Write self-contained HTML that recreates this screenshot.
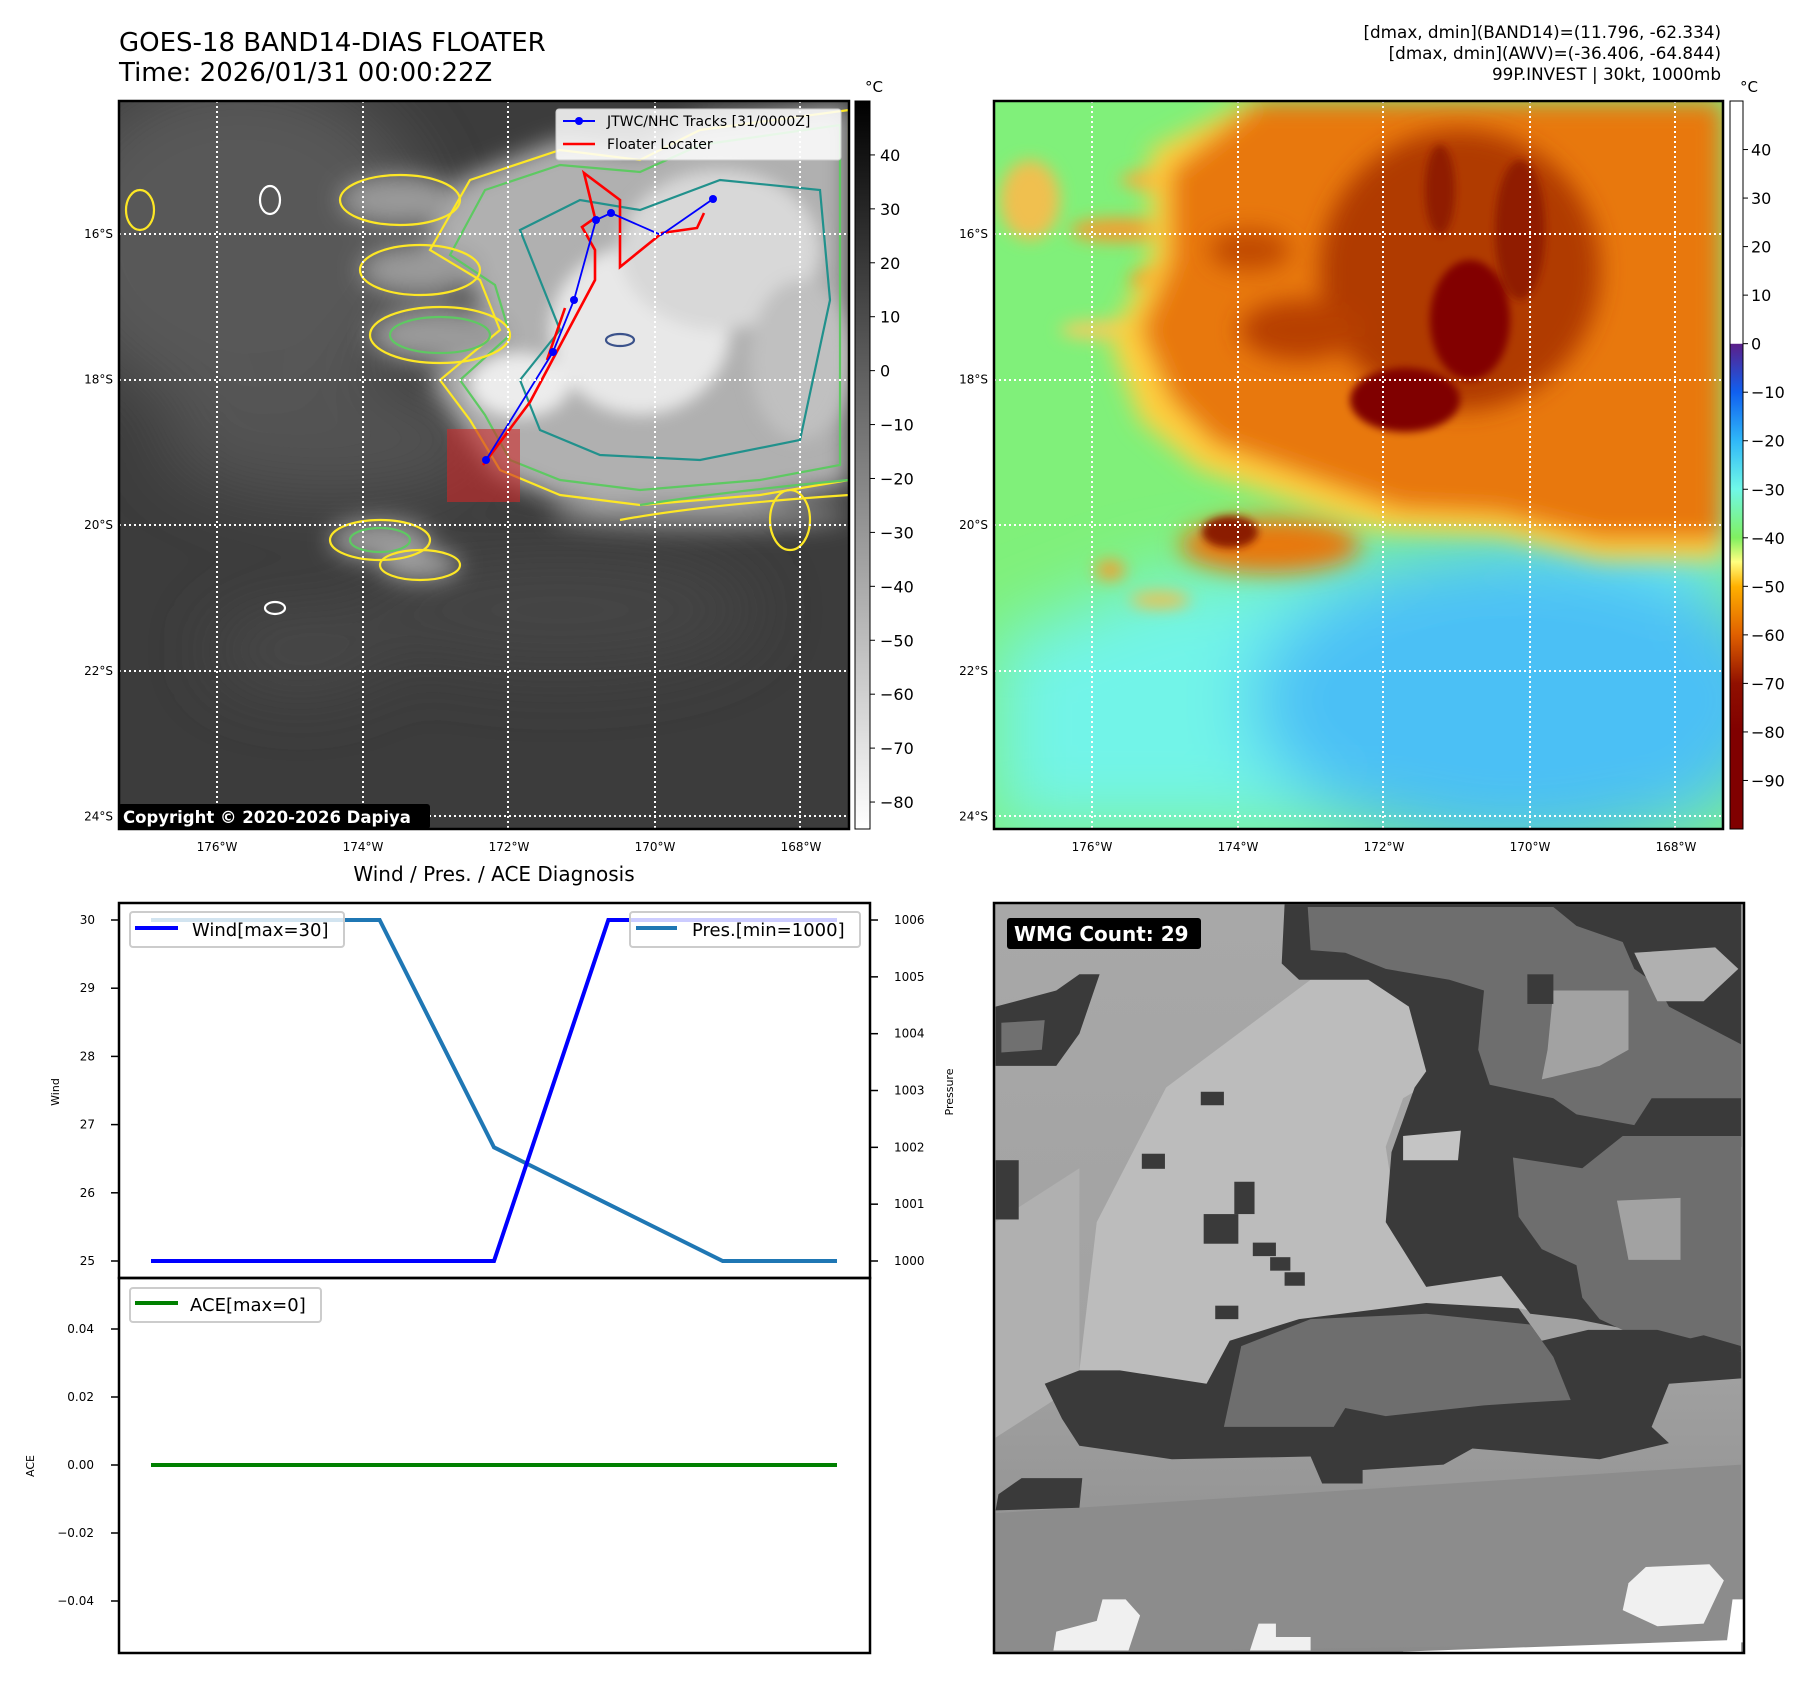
<!DOCTYPE html>
<html><head><meta charset="utf-8"><style>
html,body{margin:0;padding:0;background:#fff}
svg{display:block}
text{font-family:"DejaVu Sans","Liberation Sans",sans-serif}
</style></head><body>
<svg id="fig" width="1813" height="1690" viewBox="0 0 1813 1690" xmlns="http://www.w3.org/2000/svg">
<defs>
 <filter id="b4" x="-50%" y="-50%" width="200%" height="200%"><feGaussianBlur stdDeviation="4"/></filter>
 <filter id="b8" x="-50%" y="-50%" width="200%" height="200%"><feGaussianBlur stdDeviation="8"/></filter>
 <filter id="b12" x="-50%" y="-50%" width="200%" height="200%"><feGaussianBlur stdDeviation="12"/></filter>
 <filter id="b20" x="-50%" y="-50%" width="200%" height="200%"><feGaussianBlur stdDeviation="20"/></filter>
 <filter id="b35" x="-50%" y="-50%" width="200%" height="200%"><feGaussianBlur stdDeviation="35"/></filter>
 <clipPath id="clipL"><rect x="119" y="101" width="730" height="728"/></clipPath>
 <clipPath id="clipR"><rect x="994" y="101" width="729" height="728"/></clipPath>
 <clipPath id="clipW"><rect x="994" y="903" width="750" height="750"/></clipPath>
 <linearGradient id="gGray" x1="0" y1="0" x2="0" y2="1"><stop offset="0" stop-color="#000"/><stop offset="1" stop-color="#fff"/></linearGradient>
 <linearGradient id="gJet" x1="0" y1="0" x2="0" y2="1">
  <stop offset="0" stop-color="#fff"/><stop offset="0.333" stop-color="#fff"/>
  <stop offset="0.334" stop-color="#5b1f8a"/><stop offset="0.4" stop-color="#1060f0"/>
  <stop offset="0.467" stop-color="#30b8f8"/><stop offset="0.533" stop-color="#70f8e8"/>
  <stop offset="0.6" stop-color="#80f060"/><stop offset="0.633" stop-color="#ffff80"/>
  <stop offset="0.667" stop-color="#ffb000"/><stop offset="0.733" stop-color="#e06000"/>
  <stop offset="0.8" stop-color="#901000"/><stop offset="0.867" stop-color="#800000"/><stop offset="1" stop-color="#800000"/>
 </linearGradient>
 <linearGradient id="gWmg" x1="0" y1="0" x2="0" y2="1"><stop offset="0" stop-color="#a8a8a8"/><stop offset="0.6" stop-color="#a2a2a2"/><stop offset="1" stop-color="#8a8a8a"/></linearGradient>
</defs>

<!-- titles -->
<text x="119" y="51" font-size="26">GOES-18 BAND14-DIAS FLOATER</text>
<text x="119" y="81" font-size="26">Time: 2026/01/31 00:00:22Z</text>
<g font-size="16.8" text-anchor="end">
 <text x="1721" y="38">[dmax, dmin](BAND14)=(11.796, -62.334)</text>
 <text x="1721" y="59">[dmax, dmin](AWV)=(-36.406, -64.844)</text>
 <text x="1721" y="80">99P.INVEST | 30kt, 1000mb</text>
</g>

<!-- LEFT MAP -->
<g clip-path="url(#clipL)">
 <rect x="119" y="101" width="730" height="728" fill="#3c3c3c"/>
 <g filter="url(#b35)">
  <ellipse cx="240" cy="240" rx="190" ry="170" fill="#595959"/>
  <ellipse cx="330" cy="440" rx="170" ry="60" fill="#525252"/>
  <ellipse cx="560" cy="610" rx="200" ry="60" fill="#454545"/>
  <ellipse cx="300" cy="650" rx="90" ry="40" fill="#4a4a4a"/>
 </g>
 <g filter="url(#b12)">
  <polygon points="460,180 560,140 640,150 700,120 849,105 849,485 760,500 640,510 560,500 495,475 460,425 430,380 490,330 470,280 420,250" fill="#b0b0b0"/>
  <ellipse cx="400" cy="200" rx="60" ry="25" fill="#9a9a9a"/>
  <ellipse cx="420" cy="270" rx="60" ry="25" fill="#9a9a9a"/>
  <ellipse cx="440" cy="335" rx="70" ry="28" fill="#9a9a9a"/>
  <ellipse cx="380" cy="540" rx="50" ry="20" fill="#9a9a9a"/>
  <ellipse cx="420" cy="565" rx="40" ry="15" fill="#a0a0a0"/>
  <ellipse cx="700" cy="515" rx="150" ry="14" fill="#8a8a8a"/>
 </g>
 <g filter="url(#b8)">
  <ellipse cx="640" cy="330" rx="90" ry="85" fill="#e8e8e8"/>
  <ellipse cx="720" cy="250" rx="100" ry="80" fill="#d8d8d8"/>
  <ellipse cx="520" cy="385" rx="50" ry="32" fill="#ececec"/>
  <ellipse cx="800" cy="360" rx="50" ry="80" fill="#c0c0c0"/>
 </g>
 <g fill="none" stroke-width="2.2">
  <polygon points="470,180 560,150 640,160 700,130 849,110 849,480 760,495 640,505 560,495 500,470 470,420 440,380 500,330 480,280 430,250" stroke="#fde725"/>
  <polygon points="485,190 560,165 640,172 700,145 840,125 840,465 760,480 640,490 560,480 510,460 485,415 460,380 510,335 495,285 450,255" stroke="#5ec962"/>
  <polygon points="520,230 580,200 640,210 720,180 820,190 830,300 800,440 700,460 600,455 540,430 520,380 560,330 540,280" stroke="#21918c"/>
  <ellipse cx="400" cy="200" rx="60" ry="25" stroke="#fde725"/>
  <ellipse cx="420" cy="270" rx="60" ry="25" stroke="#fde725"/>
  <ellipse cx="440" cy="335" rx="70" ry="28" stroke="#fde725"/>
  <ellipse cx="440" cy="335" rx="50" ry="18" stroke="#5ec962"/>
  <ellipse cx="380" cy="540" rx="50" ry="20" stroke="#fde725"/>
  <ellipse cx="380" cy="540" rx="30" ry="12" stroke="#5ec962"/>
  <ellipse cx="420" cy="565" rx="40" ry="15" stroke="#fde725"/>
  <path d="M620,520 Q700,505 849,495" stroke="#fde725"/>
  <path d="M640,505 Q720,492 849,480" stroke="#5ec962"/>
  <ellipse cx="620" cy="340" rx="14" ry="6" stroke="#3b528b"/>
  <ellipse cx="790" cy="520" rx="20" ry="30" stroke="#fde725"/>
  <ellipse cx="140" cy="210" rx="14" ry="20" stroke="#fde725"/>
  <ellipse cx="270" cy="200" rx="10" ry="14" stroke="#fff"/>
  <ellipse cx="275" cy="608" rx="10" ry="6" stroke="#fff"/>
 </g>
 <rect x="447" y="429" width="73" height="73" fill="rgba(205,40,40,0.6)"/>
 <polyline points="704,213 697,228 662,233 620,267 620,200 584,173 595,218 582,227 595,250 595,280 530,402 483,465" fill="none" stroke="#ff0000" stroke-width="2.6"/>
 <line x1="565" y1="308" x2="547" y2="360" stroke="#ff0000" stroke-width="2.6"/>
 <polyline points="713,199 661,235 611,213 596,220 574,300 553,352 486,460" fill="none" stroke="#0000ff" stroke-width="1.8"/>
 <g fill="#0000ff"><circle cx="713" cy="199" r="4"/><circle cx="611" cy="213" r="4"/><circle cx="596" cy="220" r="4"/><circle cx="574" cy="300" r="4"/><circle cx="553" cy="352" r="4"/><circle cx="486" cy="460" r="4"/></g>
 <g stroke="#fff" stroke-width="2" stroke-dasharray="2,3">
  <line x1="119" y1="234" x2="849" y2="234"/><line x1="119" y1="380" x2="849" y2="380"/><line x1="119" y1="525" x2="849" y2="525"/><line x1="119" y1="671" x2="849" y2="671"/><line x1="119" y1="816" x2="849" y2="816"/>
  <line x1="217" y1="101" x2="217" y2="829"/><line x1="363" y1="101" x2="363" y2="829"/><line x1="508" y1="101" x2="508" y2="829"/><line x1="655" y1="101" x2="655" y2="829"/><line x1="800" y1="101" x2="800" y2="829"/>
 </g>
 <g>
  <rect x="556" y="109" width="285" height="51" rx="3" fill="rgba(255,255,255,0.85)" stroke="#ccc"/>
  <line x1="563" y1="121" x2="595" y2="121" stroke="#0000ff" stroke-width="2"/><circle cx="579" cy="121" r="4" fill="#0000ff"/>
  <line x1="563" y1="144" x2="595" y2="144" stroke="#ff0000" stroke-width="2.6"/>
  <text x="607" y="126" font-size="14">JTWC/NHC Tracks [31/0000Z]</text>
  <text x="607" y="149" font-size="14">Floater Locater</text>
 </g>
</g>
<rect x="119" y="101" width="730" height="728" fill="none" stroke="#000" stroke-width="2.5"/>
<g>
 <rect x="118" y="804" width="312" height="25" rx="3" fill="#000"/>
 <text x="123" y="823" font-size="16.5" font-weight="bold" fill="#fff">Copyright © 2020-2026 Dapiya</text>
</g>
<g>
 <rect x="855" y="101" width="15" height="728" fill="url(#gGray)" stroke="#000" stroke-width="1"/>
 <text x="865" y="92" font-size="15">°C</text>
</g>
<g id="cbL" font-size="16"></g>

<!-- RIGHT MAP -->
<g clip-path="url(#clipR)">
 <rect x="994" y="101" width="729" height="728" fill="#80f07a"/>
 <g filter="url(#b35)">
  <polygon points="994,640 1150,580 1300,560 1723,500 1723,829 994,829" fill="#72f4e8"/>
  <ellipse cx="1520" cy="700" rx="270" ry="150" fill="#4cc0f5"/>
 </g>
 <g filter="url(#b8)">
  <ellipse cx="1030" cy="200" rx="30" ry="40" fill="#f0c050"/>
  <ellipse cx="1120" cy="230" rx="50" ry="12" fill="#f0a030"/>
  <ellipse cx="1100" cy="330" rx="40" ry="10" fill="#e8d060"/>
  <ellipse cx="1200" cy="280" rx="70" ry="14" fill="#e89020"/>
  <ellipse cx="1180" cy="180" rx="60" ry="12" fill="#f0b040"/>
  <ellipse cx="1110" cy="570" rx="15" ry="10" fill="#f0a030"/>
  <ellipse cx="1160" cy="600" rx="30" ry="8" fill="#f0c050"/>
 </g>
 <g filter="url(#b12)">
  <polygon points="1150,150 1250,101 1723,101 1723,560 1600,560 1500,535 1380,530 1290,500 1200,470 1140,420 1110,340 1150,260" fill="#ffd040"/>
  <polygon points="1170,170 1260,101 1723,101 1723,540 1600,540 1500,515 1400,510 1300,475 1215,445 1170,400 1140,330 1170,260" fill="#e8780e"/>
  <ellipse cx="1270" cy="545" rx="90" ry="28" fill="#e8780e"/>
 </g>
 <g filter="url(#b12)">
  <ellipse cx="1460" cy="270" rx="140" ry="140" fill="#b03a00"/>
  <ellipse cx="1300" cy="330" rx="60" ry="30" fill="#b84000"/>
  <ellipse cx="1250" cy="250" rx="40" ry="20" fill="#c04a00"/>
 </g>
 <g filter="url(#b4)">
  <ellipse cx="1405" cy="400" rx="55" ry="32" fill="#800000"/>
  <ellipse cx="1470" cy="320" rx="40" ry="60" fill="#820000"/>
  <ellipse cx="1230" cy="532" rx="28" ry="16" fill="#8b1a00"/>
  <ellipse cx="1520" cy="230" rx="25" ry="70" fill="#901a00"/>
  <ellipse cx="1440" cy="190" rx="15" ry="45" fill="#901a00"/>
 </g>
 <g stroke="#fff" stroke-width="2" stroke-dasharray="2,3">
  <line x1="994" y1="234" x2="1723" y2="234"/><line x1="994" y1="380" x2="1723" y2="380"/><line x1="994" y1="525" x2="1723" y2="525"/><line x1="994" y1="671" x2="1723" y2="671"/><line x1="994" y1="816" x2="1723" y2="816"/>
  <line x1="1092" y1="101" x2="1092" y2="829"/><line x1="1238" y1="101" x2="1238" y2="829"/><line x1="1383" y1="101" x2="1383" y2="829"/><line x1="1530" y1="101" x2="1530" y2="829"/><line x1="1675" y1="101" x2="1675" y2="829"/>
 </g>
</g>
<rect x="994" y="101" width="729" height="728" fill="none" stroke="#000" stroke-width="2.5"/>
<g>
 <rect x="1730" y="101" width="13" height="728" fill="url(#gJet)" stroke="#000" stroke-width="1"/>
 <text x="1740" y="92" font-size="15">°C</text>
</g>
<g id="cbR" font-size="16"></g>
<g id="mapTicks" font-size="12"></g>

<!-- BOTTOM LEFT -->
<text x="494" y="881" font-size="20" text-anchor="middle">Wind / Pres. / ACE Diagnosis</text>
<g id="windChart"></g>
<g id="aceChart"></g>

<!-- BOTTOM RIGHT -->
<g clip-path="url(#clipW)">
 <rect x="994" y="903" width="750" height="750" fill="url(#gWmg)"/>
 <g transform="translate(906,845) scale(0.578,0.5388)">
  <polygon points="450,450 700,250 900,250 940,420 860,470 830,560 850,700 1030,710 1180,830 1160,880 1060,860 700,880 520,1000 370,980 300,975 330,700" fill="#bcbcbc"/>
  <polygon points="155,700 300,600 300,1000 155,1100" fill="#b0b0b0"/>
  <polygon points="155,1240 1445,1150 1445,1480 155,1500" fill="#8c8c8c"/>
  <polygon points="655,110 1445,110 1445,560 1430,600 1445,940 1300,910 1160,880 1080,870 1030,800 900,820 830,700 840,570 880,450 900,420 870,300 800,250 680,250 650,220" fill="#3a3a3a"/>
  <polygon points="695,115 1120,115 1160,150 1240,180 1260,230 1300,260 1320,300 1445,370 1445,470 1290,470 1260,520 1160,500 1120,470 1010,445 990,380 1000,270 940,250 830,230 760,200 700,195" fill="#6e6e6e"/>
  <polygon points="1260,200 1400,190 1440,230 1380,290 1300,290" fill="#b0b0b0"/>
  <polygon points="1120,270 1250,270 1250,380 1200,410 1100,435 1110,380" fill="#a2a2a2"/>
  <polygon points="1050,580 1170,600 1240,540 1445,540 1445,930 1380,910 1300,930 1200,880 1170,840 1160,780 1100,750 1060,690" fill="#6e6e6e"/>
  <polygon points="1230,660 1340,655 1340,770 1250,770" fill="#a2a2a2"/>
  <polygon points="860,540 960,530 955,585 860,585" fill="#c4c4c4"/>
  <polygon points="240,1000 300,975 370,975 520,1000 560,920 680,880 900,850 1060,860 1100,920 1180,900 1300,900 1445,940 1445,990 1320,1000 1290,1080 1320,1110 1200,1140 980,1120 930,1150 790,1160 790,1185 720,1185 700,1135 460,1140 300,1115 270,1065" fill="#3a3a3a"/>
  <polygon points="550,1080 580,930 700,880 900,870 1080,890 1120,950 1150,1030 1070,1035 1000,1040 830,1060 760,1045 740,1080" fill="#6e6e6e"/>
  <polygon points="155,300 260,270 300,240 335,240 300,350 260,410 155,410" fill="#3a3a3a"/>
  <polygon points="165,330 240,325 235,380 165,385" fill="#707070"/>
  <rect x="155" y="585" width="40" height="110" fill="#3a3a3a"/>
  <polygon points="200,1175 305,1175 300,1230 155,1235 160,1205" fill="#3a3a3a"/>
  <g fill="#3a3a3a">
   <rect x="510" y="458" width="40" height="25"/><rect x="408" y="573" width="40" height="28"/><rect x="568" y="625" width="35" height="60"/><rect x="515" y="685" width="60" height="55"/><rect x="600" y="738" width="40" height="25"/><rect x="630" y="765" width="35" height="25"/><rect x="655" y="793" width="35" height="25"/><rect x="535" y="855" width="40" height="25"/><rect x="1075" y="240" width="45" height="55"/>
  </g>
  <g fill="#f0f0f0">
   <polygon points="1280,1340 1390,1335 1415,1365 1380,1445 1300,1450 1240,1420 1250,1370"/>
   <polygon points="340,1400 380,1400 405,1430 385,1495 255,1495 260,1460 330,1440"/>
   <polygon points="610,1445 640,1445 640,1470 700,1470 700,1495 595,1495"/>
   <polygon points="860,1497 1445,1475 1445,1500 860,1500" fill="#fff"/>
   <polygon points="1430,1400 1450,1400 1450,1480 1420,1480" fill="#fff"/>
  </g>
 </g>
</g>
<rect x="994" y="903" width="750" height="750" fill="none" stroke="#000" stroke-width="2.5"/>
<g>
 <rect x="1007" y="918" width="194" height="31" rx="3" fill="#000"/>
 <text x="1014" y="941" font-size="20" font-weight="bold" fill="#fff">WMG Count: 29</text>
</g>

<script>
// ---- chart data ----
const timeIdx = [0, 1, 2, 3, 4, 5, 6];
const windVals = [25, 25, 25, 25, 30, 30, 30];
const presVals = [1006, 1006, 1006, 1002, 1001, 1000, 1000];
const aceVals = [0, 0, 0, 0, 0, 0, 0];
const windTicks = [25, 26, 27, 28, 29, 30];
const presTicks = [1000, 1001, 1002, 1003, 1004, 1005, 1006];
const aceTicks = [-0.04, -0.02, 0.00, 0.02, 0.04];
const aceTickLabels = ['\u22120.04', '\u22120.02', '0.00', '0.02', '0.04'];
const cbLeftTicks = [40, 30, 20, 10, 0, -10, -20, -30, -40, -50, -60, -70, -80];
const cbRightTicks = [40, 30, 20, 10, 0, -10, -20, -30, -40, -50, -60, -70, -80, -90];
const latTicks = [-16, -18, -20, -22, -24];
const lonTicks = [-176, -174, -172, -170, -168];

const NS = 'http://www.w3.org/2000/svg';
function mk(tag, attrs, parent) {
  const e = document.createElementNS(NS, tag);
  for (const k in attrs) e.setAttribute(k, attrs[k]);
  parent.appendChild(e);
  return e;
}
function lbl(v) { return (v < 0 ? '\u2212' : '') + Math.abs(v); }

// axis functions
const xT = i => 151 + i * (837 - 151) / 6;
const yWind = v => 1261 - (v - 25) * 68.2;
const yPres = p => 1261 - (p - 1000) * 56.83;
const yAce = a => 1465 - a * 3400;
const yCbL = v => 101 + (50 - v) / 135 * 728;
const yCbR = v => 101 + (50 - v) / 150 * 728;
const yLat = la => 234 + (-16 - la) * 72.8;
const xLon = lo => 217 + (lo + 176) * 73;

// colorbar ticks
const cbL = document.getElementById('cbL');
cbLeftTicks.forEach(v => {
  const y = yCbL(v);
  const t = mk('line', {x1: 870, x2: 875, y1: y, y2: y, stroke: '#000'}, cbL);
  
  
  const tx = mk('text', {x: 880, y: y + 6}, cbL);
  tx.textContent = lbl(v);
  
  
});
const cbR = document.getElementById('cbR');
cbRightTicks.forEach(v => {
  const y = yCbR(v);
  const t = mk('line', {x1: 1743, x2: 1748, y1: y, y2: y, stroke: '#000'}, cbR);
  
  
  const tx = mk('text', {x: 1751, y: y + 6}, cbR);
  tx.textContent = lbl(v);
  
  
});

// map tick labels
const mt = document.getElementById('mapTicks');
[0, 875].forEach(off => {
  latTicks.forEach(la => {
    const t = mk('text', {x: 113 + off, y: yLat(la) + 4, 'text-anchor': 'end'}, mt);
    t.textContent = Math.abs(la) + '\u00b0S';
    
    
  });
  lonTicks.forEach(lo => {
    const t = mk('text', {x: xLon(lo) + off, y: 851, 'text-anchor': 'middle'}, mt);
    t.textContent = Math.abs(lo) + '\u00b0W';
    
    
  });
});

// wind / pressure chart
const wc = document.getElementById('windChart');
mk('rect', {x: 119, y: 903, width: 751, height: 375, fill: '#fff', stroke: '#000', 'stroke-width': 2.5}, wc);
windTicks.forEach(v => {
  const y = yWind(v);
  const l = mk('line', {x1: 111, x2: 119, y1: y, y2: y, stroke: '#000', 'stroke-width': 1.5}, wc);
  
  
  const t = mk('text', {x: 95, y: y + 4, 'font-size': 12, 'text-anchor': 'end'}, wc);
  t.textContent = v;
  
  
});
presTicks.forEach(p => {
  const y = yPres(p);
  const l = mk('line', {x1: 870, x2: 878, y1: y, y2: y, stroke: '#000', 'stroke-width': 1.5}, wc);
  
  
  const t = mk('text', {x: 894, y: y + 4, 'font-size': 12}, wc);
  t.textContent = p;
  
  
});
const wy = mk('text', {x: 0, y: 0, 'font-size': 11, 'text-anchor': 'middle', transform: 'translate(59,1092) rotate(-90)'}, wc);
wy.textContent = 'Wind';


const py = mk('text', {x: 0, y: 0, 'font-size': 11, 'text-anchor': 'middle', transform: 'translate(953,1092) rotate(-90)'}, wc);
py.textContent = 'Pressure';



const pl = mk('polyline', {points: timeIdx.map((i, k) => xT(i) + ',' + yPres(presVals[k])).join(' '), fill: 'none', stroke: '#1f77b4', 'stroke-width': 4, 'stroke-linejoin': 'miter'}, wc);


const wl = mk('polyline', {points: timeIdx.map((i, k) => xT(i) + ',' + yWind(windVals[k])).join(' '), fill: 'none', stroke: '#0000ff', 'stroke-width': 4}, wc);



const wlg = mk('g', {}, wc);


mk('rect', {x: 130, y: 912, width: 214, height: 35, rx: 3, fill: 'rgba(255,255,255,0.8)', stroke: '#ccc', 'stroke-width': 2}, wlg);
mk('line', {x1: 135, x2: 178, y1: 928, y2: 928, stroke: '#0000ff', 'stroke-width': 4}, wlg);
const wlt = mk('text', {x: 192, y: 936, 'font-size': 18}, wlg);
wlt.textContent = 'Wind[max=30]';

const plg = mk('g', {}, wc);


mk('rect', {x: 630, y: 912, width: 230, height: 35, rx: 3, fill: 'rgba(255,255,255,0.8)', stroke: '#ccc', 'stroke-width': 2}, plg);
mk('line', {x1: 636, x2: 677, y1: 928, y2: 928, stroke: '#1f77b4', 'stroke-width': 4}, plg);
const plt = mk('text', {x: 692, y: 936, 'font-size': 18}, plg);
plt.textContent = 'Pres.[min=1000]';

// ACE chart
const ac = document.getElementById('aceChart');
mk('rect', {x: 119, y: 1278, width: 751, height: 375, fill: 'none', stroke: '#000', 'stroke-width': 2.5}, ac);
aceTicks.forEach((a, k) => {
  const y = yAce(a);
  const l = mk('line', {x1: 111, x2: 119, y1: y, y2: y, stroke: '#000', 'stroke-width': 1.5}, ac);
  
  
  const t = mk('text', {x: 94, y: y + 4, 'font-size': 12, 'text-anchor': 'end'}, ac);
  t.textContent = aceTickLabels[k];
  
  
});
const ay = mk('text', {x: 0, y: 0, 'font-size': 11, 'text-anchor': 'middle', transform: 'translate(34,1466) rotate(-90)'}, ac);
ay.textContent = 'ACE';


const al = mk('polyline', {points: timeIdx.map((i, k) => xT(i) + ',' + yAce(aceVals[k])).join(' '), fill: 'none', stroke: '#008000', 'stroke-width': 4}, ac);


const alg = mk('g', {}, ac);


mk('rect', {x: 130, y: 1288, width: 191, height: 34, rx: 3, fill: 'rgba(255,255,255,0.8)', stroke: '#ccc', 'stroke-width': 2}, alg);
mk('line', {x1: 135, x2: 178, y1: 1303, y2: 1303, stroke: '#008000', 'stroke-width': 4}, alg);
const alt = mk('text', {x: 190, y: 1311, 'font-size': 18}, alg);
alt.textContent = 'ACE[max=0]';
</script>
</svg>
</body></html>
